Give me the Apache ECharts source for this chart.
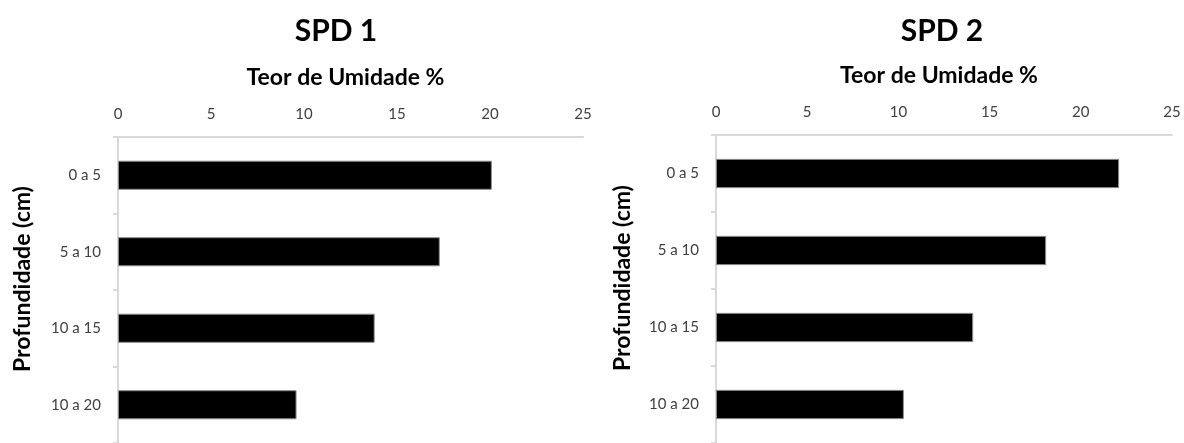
<!DOCTYPE html>
<html>
<head>
<meta charset="utf-8">
<style>
  html, body { margin: 0; padding: 0; background: #fff; }
  #chart { width: 1184px; height: 443px; }
</style>
<script src="https://cdn.jsdelivr.net/npm/echarts@6/dist/echarts.min.js"></script>
</head>
<body>
<div id="chart"></div>
<script>
// profundidade (categorias do eixo y)
const categories = ['0 a 5', '5 a 10', '10 a 15', '10 a 20'];
// teor de umidade % para cada ponto
const spd1Values = [20.1, 17.3, 13.8, 9.6];
const spd2Values = [22.1, 18.1, 14.1, 10.3];
const panelTitles = ['SPD 1', 'SPD 2'];
const xName = 'Teor de Umidade %';
const yName = 'Profundidade (cm)';

const chart = echarts.init(document.getElementById('chart'));
const fontFamily = 'Lato, "Open Sans", sans-serif';
const lineColor = '#d9d9d9';

function makeX(gridIndex) {
    return {
        type: 'value',
        gridIndex: gridIndex,
        position: 'top',
        min: 0,
        max: 25,
        interval: 5,
        name: xName,
        nameLocation: 'middle',
        nameGap: 48,
        nameTextStyle: { fontFamily: fontFamily, fontWeight: 'bold', fontSize: 23, color: '#000',
                         padding: [0, 10, 0, 0] },
        axisLine: { show: true, lineStyle: { color: lineColor, width: 2 } },
        axisTick: { show: false },
        splitLine: { show: false },
        axisLabel: { margin: 15, fontFamily: fontFamily, fontSize: 15, color: '#404040' }
    };
}

function makeY(gridIndex, gap) {
    return {
        type: 'category',
        gridIndex: gridIndex,
        inverse: true,
        data: categories,
        name: yName,
        nameLocation: 'middle',
        nameGap: gap,
        nameTextStyle: { fontFamily: fontFamily, fontWeight: 'bold', fontSize: 23, color: '#000',
                         padding: [0, 0, 0, 22] },
        axisLine: { show: true, lineStyle: { color: lineColor, width: 2 } },
        axisTick: { show: true, length: 5, lineStyle: { color: lineColor, width: 2 } },
        axisLabel: { margin: 17, fontFamily: fontFamily, fontSize: 15, color: '#404040' }
    };
}

function makeBar(idx, values) {
    return {
        type: 'bar',
        xAxisIndex: idx,
        yAxisIndex: idx,
        data: values,
        barCategoryGap: '62%',
        itemStyle: { color: '#000', borderColor: '#8c8c8c', borderWidth: 1 },
        silent: true
    };
}

let option = {
    animation: false,
    backgroundColor: '#fff',
    title: [
        { text: panelTitles[0], left: 331, top: 11, textAlign: 'center',
          textStyle: { fontFamily: fontFamily, fontWeight: 'bold', fontSize: 30, color: '#000' } },
        { text: panelTitles[1], left: 937, top: 11, textAlign: 'center',
          textStyle: { fontFamily: fontFamily, fontWeight: 'bold', fontSize: 30, color: '#000' } }
    ],
    grid: [
        { left: 118, width: 465, top: 137, height: 312 },
        { left: 716, width: 456, top: 135, height: 310 }
    ],
    xAxis: [makeX(0), makeX(1)],
    yAxis: [makeY(0, 84), makeY(1, 82)],
    series: [makeBar(0, spd1Values), makeBar(1, spd2Values)]
};

chart.setOption(option);
</script>
</body>
</html>
